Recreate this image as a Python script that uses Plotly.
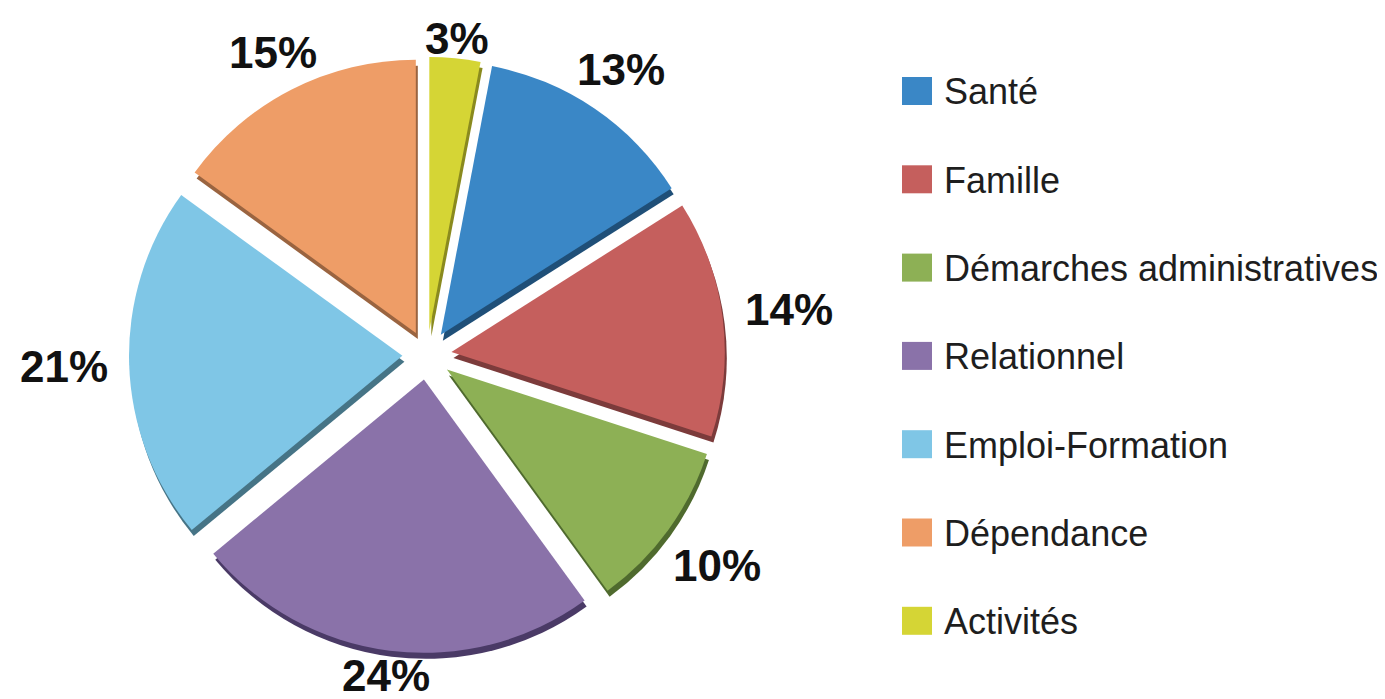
import math
import plotly.graph_objects as go

labels = ["Santé", "Famille", "Démarches administratives", "Relationnel",
          "Emploi-Formation", "Dépendance", "Activités"]
values = [13, 14, 10, 24, 21, 15, 3]
colors = ["#3a87c6", "#c55f5d", "#8db055", "#8a72a9", "#7fc6e6", "#ee9d67", "#d5d535"]
edge_colors = ["#1f4f78", "#7c3b3b", "#4f6a2e", "#4a3a66", "#467486", "#9a6440", "#8a8a1e"]
pct_text = [f"{v}%" for v in values]

W, H = 1385, 699
FONT = "Liberation Sans, Arial, Helvetica, sans-serif"
pull = 0.09
rotation = 10.8
depth = 6  # px of the 3D edge

# pie placement (pixels from top-left of the figure)
cx, cy = 419, 347
R_tot = 298
half = R_tot
x0, x1 = cx - half, cx + half
y0, y1 = cy - half, cy + half


def dom_y(a, b):
    return [1 - b / H, 1 - a / H]


fig = go.Figure()

# dark "side" of the slices (3D edge)
fig.add_trace(go.Pie(
    labels=labels, values=values, sort=False, direction="clockwise",
    rotation=rotation, pull=pull, automargin=False,
    marker=dict(colors=edge_colors, line=dict(width=0)),
    textinfo="none", hoverinfo="skip", showlegend=False,
    domain=dict(x=[(x0 + 2) / W, (x1 + 2) / W], y=dom_y(y0 + depth, y1 + depth)),
))

# top faces
fig.add_trace(go.Pie(
    labels=labels, values=values, sort=False, direction="clockwise",
    rotation=rotation, pull=pull, automargin=False,
    marker=dict(colors=colors, line=dict(width=0)),
    textinfo="none", showlegend=False,
    domain=dict(x=[x0 / W, x1 / W], y=dom_y(y0, y1)),
))

# percentage labels outside each slice, along the slice bisector
lab_size = 44
total = sum(values)
start = rotation
gap = 12
rx, ry = R_tot + 9, R_tot - 8
box_half = lab_size * 1.3 / 2 + 2
for v, t in zip(values, pct_text):
    ang = start + 360 * v / total / 2
    start += 360 * v / total
    th = math.radians(ang)
    s, c = math.sin(th), -math.cos(th)
    tw = (0.556 * (len(t) - 1) + 0.889) * lab_size
    tv = 0.72 * lab_size
    d = math.hypot(rx * s, ry * c) + gap + abs(s) * tw / 2 + abs(c) * tv / 2
    lx, ly = cx + d * s, cy + d * c
    ly = min(max(ly, box_half), H - box_half)  # keep the label inside the figure
    fig.add_annotation(x=lx / W, y=1 - ly / H, xref="paper", yref="paper",
                       text=f"<b>{t}</b>", showarrow=False,
                       xanchor="center", yanchor="middle",
                       font=dict(family=FONT, size=lab_size, color="#111111"))

# legend drawn as squares + text
leg_x = 894
leg_y0 = 83
leg_step = 88.3
sq_w, sq_h = 30, 28
for i, (lab, col) in enumerate(zip(labels, colors)):
    yc = leg_y0 + i * leg_step
    fig.add_shape(type="rect", xref="paper", yref="paper",
                  x0=leg_x / W, x1=(leg_x + sq_w) / W,
                  y0=1 - (yc + sq_h / 2) / H, y1=1 - (yc - sq_h / 2) / H,
                  fillcolor=col, line=dict(width=0))
    fig.add_annotation(x=(leg_x + sq_w + 10) / W, y=1 - (yc + 1) / H,
                       xref="paper", yref="paper",
                       text=lab, showarrow=False, xanchor="left", yanchor="middle",
                       font=dict(family=FONT, size=36, color="#1e1e1e"))

fig.update_layout(
    width=W, height=H,
    margin=dict(l=0, r=0, t=0, b=0, autoexpand=False),
    paper_bgcolor="white", plot_bgcolor="white",
    showlegend=False,
)

fig.write_html("out.html")
